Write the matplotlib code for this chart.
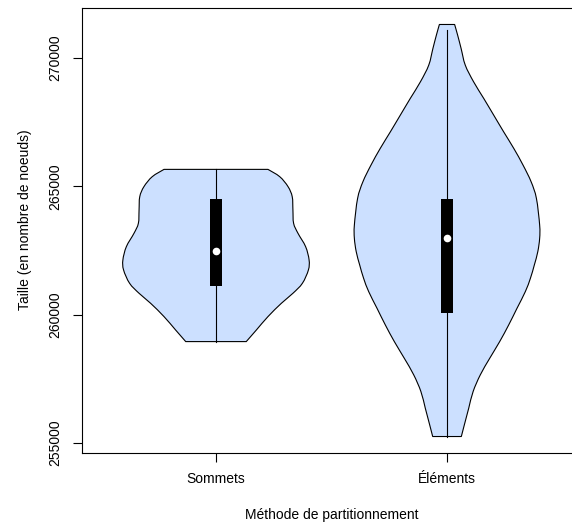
import numpy as np
import matplotlib
matplotlib.use("Agg")
from matplotlib import pyplot as plt
from matplotlib.path import Path
from matplotlib.patches import PathPatch

plt.rcParams['font.family'] = ['Liberation Sans', 'DejaVu Sans']

# groups
categories = ["Sommets", "Éléments"]

# violin outlines: value (nodes) -> half width (x units)
sommets_y = [258948, 259402, 259922, 260441, 260831, 261221, 261740, 262130,
             262649, 263169, 263558, 264078, 264597, 264987, 265377, 265662]
sommets_w = [0.131, 0.175, 0.225, 0.283, 0.333, 0.374, 0.400, 0.403,
             0.388, 0.355, 0.336, 0.333, 0.330, 0.312, 0.276, 0.225]

elements_y = [255247, 255701, 256351, 257000, 257649, 258299, 258948, 259597,
              260247, 260896, 261415, 261935, 262454, 262974, 263493, 264532,
              265181, 265831, 266480, 267129, 267779, 268428, 269078, 269727,
              270376, 270896, 271311]
elements_w = [0.062, 0.075, 0.094, 0.113, 0.144, 0.185, 0.228, 0.267,
              0.303, 0.339, 0.361, 0.378, 0.393, 0.401, 0.401, 0.387,
              0.364, 0.329, 0.289, 0.245, 0.202, 0.159, 0.115, 0.079,
              0.061, 0.046, 0.033]

# box summaries: q1, median, q3, whisker low, whisker high
q1 = [261130, 260078]
medians = [262493, 262974]
q3 = [264506, 264506]
whisk_lo = [258948, 255247]
whisk_hi = [265662, 271090]

profiles = [(sommets_y, sommets_w), (elements_y, elements_w)]
fill_col = "#cce0ff"


def smooth_path(pts):
    # Catmull-Rom through the points, drawn as cubic bezier segments
    pts = np.asarray(pts, dtype=float)
    verts = [pts[0]]
    codes = [Path.MOVETO]
    n = len(pts)
    for i in range(n - 1):
        p0 = pts[i - 1] if i > 0 else pts[i]
        p1 = pts[i]
        p2 = pts[i + 1]
        p3 = pts[i + 2] if i + 2 < n else pts[i + 1]
        c1 = p1 + (p2 - p0) / 6.0
        c2 = p2 - (p3 - p1) / 6.0
        verts += [c1, c2, p2]
        codes += [Path.CURVE4] * 3
    return verts, codes


def violin_patch(pos, ys, ws):
    ys = np.asarray(ys, float)
    ws = np.asarray(ws, float)
    right = np.column_stack([pos + ws, ys])
    left = np.column_stack([pos - ws, ys])[::-1]
    rv, rc = smooth_path(right)
    lv, lc = smooth_path(left)
    lc[0] = Path.LINETO
    verts = rv + lv + [rv[0]]
    codes = rc + lc + [Path.CLOSEPOLY]
    return PathPatch(Path(verts, codes), facecolor=fill_col, edgecolor="black",
                     lw=0.8, zorder=2)


fig = plt.figure(figsize=(5.72, 5.24), dpi=100)
ax = fig.add_axes([82 / 572, 71 / 524, 499 / 572, 445 / 524])

for i, (ys, ws) in enumerate(profiles):
    pos = i + 1
    ax.add_patch(violin_patch(pos, ys, ws))
    ax.plot([pos, pos], [whisk_lo[i], whisk_hi[i]], color="black", lw=0.8, zorder=3)
    ax.fill_between([pos - 0.026, pos + 0.026], q1[i], q3[i], color="black",
                    lw=0, zorder=4)
    ax.plot(pos, medians[i], "o", color="white", ms=5.5, mew=0, zorder=5)

lo = min(sommets_y[0], elements_y[0])
hi = max(sommets_y[-1], elements_y[-1])
pad = 0.04 * (hi - lo)
ax.set_ylim(lo - pad, hi + pad)
ax.set_xlim(0.42, 2.58)

ax.set_xticks([1, 2])
ax.set_xticklabels(categories, fontsize=10)
yt = [255000, 260000, 265000, 270000]
ax.set_yticks(yt)
ax.set_yticklabels([str(v) for v in yt], rotation=90, va="center", fontsize=10)
ax.tick_params(length=6.5, width=0.8, color="black")
ax.tick_params(axis="x", pad=7)
ax.tick_params(axis="y", pad=8)

for s in ax.spines.values():
    s.set_linewidth(0.8)

ax.set_xlabel("Méthode de partitionnement", fontsize=10, va="center")
ax.xaxis.set_label_coords(0.5, -62 / 445)
ax.set_ylabel("Taille (en nombre de noeuds)", fontsize=10, va="center")
ax.yaxis.set_label_coords(-57 / 499, (453 - 220) / 445)

fig.savefig("out.png", dpi=100)
